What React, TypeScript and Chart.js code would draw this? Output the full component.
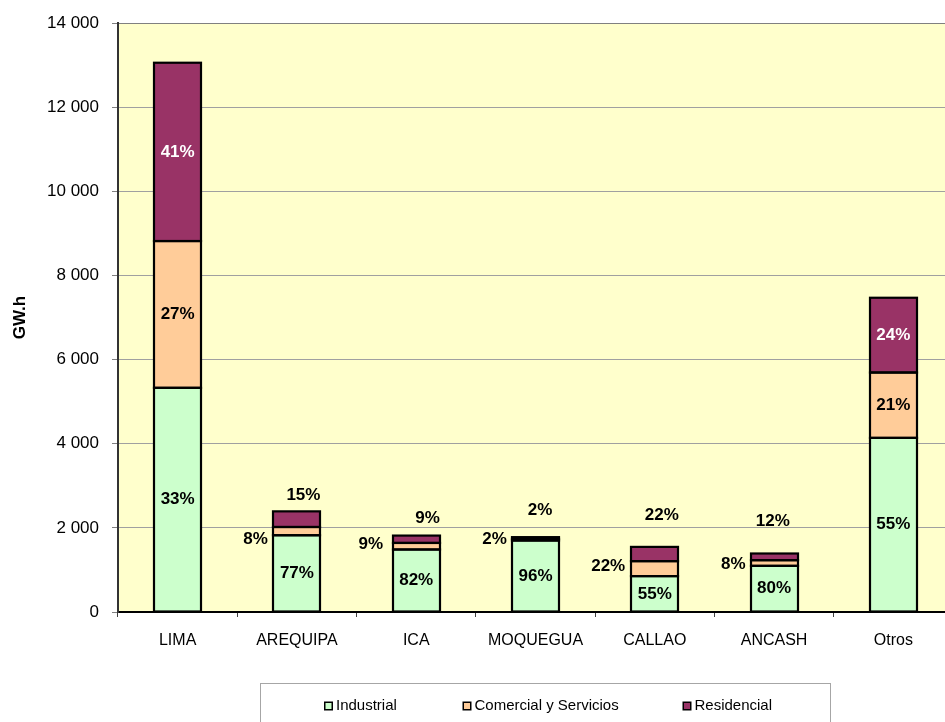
import React, { useEffect, useRef } from "react";
import { Chart, registerables } from "chart.js";

Chart.register(...registerables);

const categories = ["LIMA", "AREQUIPA", "ICA", "MOQUEGUA", "CALLAO", "ANCASH", "Otros"];
const seriesNames = ["Industrial", "Comercial y Servicios", "Residencial"];
const industrial = [5330, 1825, 1486, 1700, 853, 1097, 4140];
const comercial = [3490, 196, 156, 40, 356, 135, 1554];
const residencial = [4240, 372, 175, 40, 339, 159, 1778];
const industrialPct = ["33%", "77%", "82%", "96%", "55%", "80%", "55%"];
const comercialPct = ["27%", "8%", "9%", "2%", "22%", "8%", "21%"];
const residencialPct = ["41%", "15%", "9%", "2%", "22%", "12%", "24%"];
const yMax = 14000;
const yStep = 2000;

const colors = ["#CCFFCC", "#FFCC99", "#993366"];
const FONT = '"Liberation Sans", Arial, sans-serif';

// label placement styles (outside labels)
const aboveDx = [0, 6.5, 11.4, 4.5, 7, -1.2, 0];
const aboveDy = [0, -16, -17, -26.7, -31.7, -32.5, 0];
const leftGap = [0, 5.6, 9.6, 5, 6, 5, 0];
const leftDy = [0, 8, -2, 0, -2, 1, 0];

const fmt = (v: number) => String(v).replace(/\B(?=(\d{3})+(?!\d))/g, " ");

const bgPlugin = {
  id: "plotBg",
  beforeDraw(chart: any) {
    const { ctx, chartArea } = chart;
    ctx.save();
    ctx.fillStyle = "#FFFFCC";
    ctx.fillRect(chartArea.left, chartArea.top, chartArea.right - chartArea.left, chartArea.bottom - chartArea.top);
    ctx.restore();
  },
};

const outlinePlugin = {
  id: "barOutline",
  afterDatasetsDraw(chart: any) {
    const ctx = chart.ctx;
    ctx.save();
    ctx.strokeStyle = "#000000";
    ctx.lineWidth = 2.2;
    chart.data.datasets.forEach((_ds: any, di: number) => {
      chart.getDatasetMeta(di).data.forEach((el: any) => {
        const x0 = Math.round(el.x - el.width / 2);
        const x1 = Math.round(el.x + el.width / 2);
        ctx.strokeRect(x0, el.y, x1 - x0, el.base - el.y);
      });
    });
    ctx.restore();
  },
};

const labelPlugin = {
  id: "segLabels",
  afterDatasetsDraw(chart: any) {
    const ctx = chart.ctx;
    const pcts = [industrialPct, comercialPct, residencialPct];
    ctx.save();
    ctx.font = `bold 17px ${FONT}`;
    ctx.textBaseline = "middle";
    chart.data.datasets.forEach((_ds: any, di: number) => {
      const meta = chart.getDatasetMeta(di);
      meta.data.forEach((el: any, j: number) => {
        const x = el.x, y = el.y, base = el.base, w = el.width;
        const h = base - y;
        const text = pcts[di][j];
        if (h >= 30) {
          ctx.fillStyle = di === 2 ? "#FFFFFF" : "#000000";
          ctx.textAlign = "center";
          ctx.fillText(text, x, (y + base) / 2);
        } else if (di === 1) {
          ctx.fillStyle = "#000000";
          ctx.textAlign = "right";
          ctx.fillText(text, x - w / 2 - leftGap[j], (y + base) / 2 + leftDy[j]);
        } else {
          ctx.fillStyle = "#000000";
          ctx.textAlign = "center";
          ctx.fillText(text, x + aboveDx[j], y + aboveDy[j]);
        }
      });
    });
    ctx.restore();
  },
};

const legendPlugin = {
  id: "boxLegend",
  afterDraw(chart: any) {
    const ctx = chart.ctx;
    ctx.save();
    ctx.strokeStyle = "#A6A6A6";
    ctx.lineWidth = 1;
    ctx.strokeRect(260.5, 683.5, 570, 60);
    const markerX = [324, 462.5, 682.5];
    ctx.font = `15px ${FONT}`;
    ctx.textBaseline = "middle";
    ctx.textAlign = "left";
    chart.data.datasets.forEach((ds: any, i: number) => {
      const mx = markerX[i];
      ctx.fillStyle = "#000";
      ctx.fillRect(mx, 701.5, 9, 9);
      ctx.fillStyle = ds.backgroundColor;
      ctx.fillRect(mx + 1.5, 703, 6, 6);
      ctx.fillStyle = "#000";
      ctx.fillText(ds.label, mx + 12, 706);
    });
    ctx.restore();
  },
};

export default function App() {
  const ref = useRef<HTMLCanvasElement | null>(null);
  useEffect(() => {
    if (!ref.current) return;
    const chart = new Chart(ref.current, {
      type: "bar",
      data: {
        labels: categories,
        datasets: [industrial, comercial, residencial].map((d, i) => ({
          label: seriesNames[i],
          data: d,
          backgroundColor: colors[i],
          borderWidth: 0,
          inflateAmount: 0,
          categoryPercentage: 1,
          barPercentage: 0.395,
        })),
      },
      options: {
        animation: false,
        responsive: false,
        devicePixelRatio: 1,
        layout: { padding: { top: 21, left: 0, right: 0, bottom: 0 } },
        plugins: { legend: { display: false }, tooltip: { enabled: false } },
        scales: {
          x: {
            stacked: true,
            afterFit: (s: any) => { s.height = 110; },
            grid: { display: true, drawOnChartArea: false, tickLength: 5, color: "#404040", offset: true },
            border: { color: "#000000", width: 2 },
            ticks: { color: "#000", font: { family: FONT, size: 16 }, padding: 14, maxRotation: 0, autoSkip: false },
          },
          y: {
            stacked: true,
            min: 0,
            max: yMax,
            afterFit: (s: any) => { s.width = 118; },
            grid: {
              color: (c: any) => (c.tick && c.tick.value === yMax ? "#808080" : "#A0A0A0"),
              tickColor: "#808080",
              tickLength: 6,
            },
            border: { color: "#333333", width: 2 },
            ticks: {
              stepSize: yStep,
              color: "#000",
              font: { family: FONT, size: 17 },
              padding: 13,
              callback: (v: any) => fmt(Number(v)),
            },
            title: {
              display: true,
              text: "GW.h",
              color: "#000",
              font: { family: FONT, size: 17, weight: "bold" },
              padding: { top: 10, bottom: 0 },
            },
          },
        },
      },
      plugins: [bgPlugin, outlinePlugin, labelPlugin, legendPlugin],
    });
    return () => chart.destroy();
  }, []);
  return (
    <div style={{ position: "fixed", left: 0, top: 0, width: 945, height: 722, overflow: "hidden", background: "#fff" }}>
      <canvas ref={ref} width={953} height={722} style={{ display: "block", width: 953, height: 722 }} />
    </div>
  );
}
